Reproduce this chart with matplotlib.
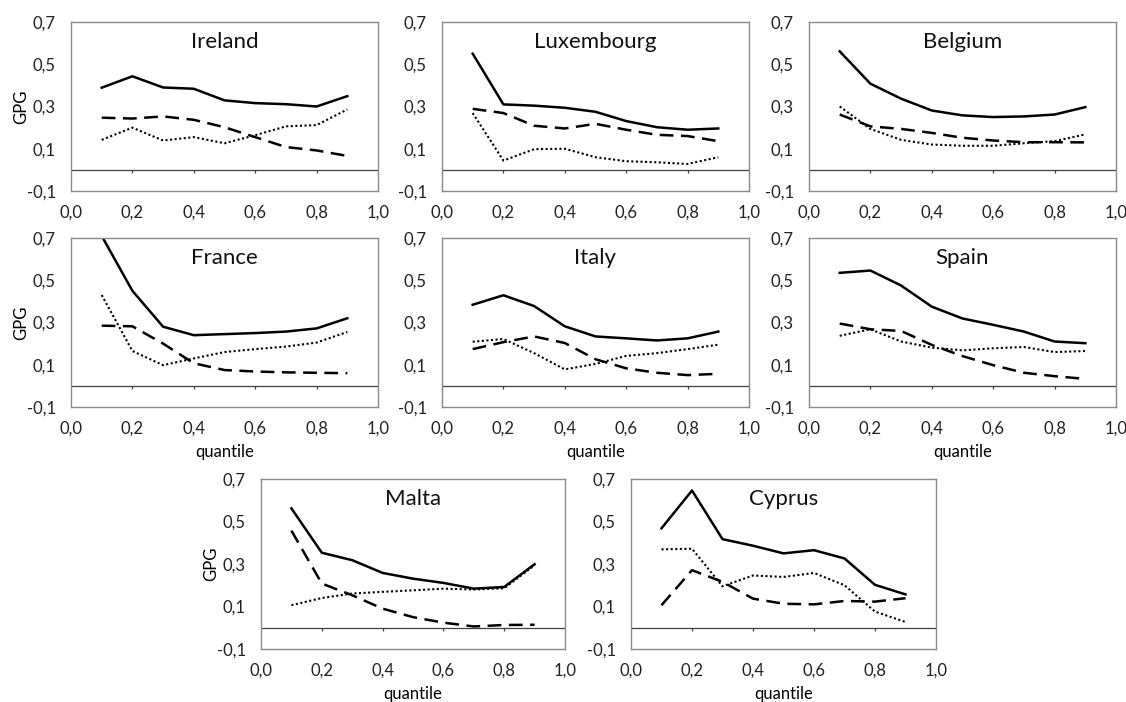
import matplotlib.pyplot as plt
from matplotlib.ticker import FuncFormatter

plt.rcParams['font.family'] = ['Lato', 'DejaVu Sans']

quantiles = [0.1, 0.2, 0.3, 0.4, 0.5, 0.6, 0.7, 0.8, 0.9]

countries = ['Ireland', 'Luxembourg', 'Belgium', 'France', 'Italy', 'Spain', 'Malta', 'Cyprus']

# solid line
solid = {
    'Ireland':    [0.389, 0.443, 0.390, 0.384, 0.329, 0.316, 0.311, 0.300, 0.349],
    'Luxembourg': [0.550, 0.310, 0.304, 0.294, 0.275, 0.231, 0.202, 0.190, 0.196],
    'Belgium':    [0.561, 0.408, 0.337, 0.281, 0.258, 0.250, 0.253, 0.262, 0.297],
    'France':     [0.710, 0.450, 0.280, 0.240, 0.245, 0.250, 0.257, 0.272, 0.320],
    'Italy':      [0.384, 0.429, 0.378, 0.282, 0.234, 0.225, 0.215, 0.225, 0.257],
    'Spain':      [0.535, 0.546, 0.475, 0.375, 0.319, 0.289, 0.257, 0.210, 0.202],
    'Malta':      [0.562, 0.353, 0.318, 0.258, 0.231, 0.211, 0.184, 0.192, 0.299],
    'Cyprus':     [0.468, 0.646, 0.417, 0.386, 0.350, 0.365, 0.326, 0.202, 0.157],
}

# dashed line
dashed = {
    'Ireland':    [0.247, 0.243, 0.253, 0.237, 0.202, 0.155, 0.108, 0.092, 0.066],
    'Luxembourg': [0.289, 0.269, 0.209, 0.196, 0.218, 0.190, 0.166, 0.160, 0.136],
    'Belgium':    [0.262, 0.206, 0.194, 0.175, 0.152, 0.139, 0.131, 0.131, 0.130],
    'France':     [0.285, 0.282, 0.200, 0.107, 0.075, 0.068, 0.064, 0.062, 0.060],
    'Italy':      [0.174, 0.207, 0.234, 0.203, 0.126, 0.083, 0.062, 0.051, 0.057],
    'Spain':      [0.295, 0.268, 0.260, 0.194, 0.141, 0.098, 0.062, 0.046, 0.033],
    'Malta':      [0.457, 0.208, 0.153, 0.090, 0.050, 0.024, 0.006, 0.013, 0.014],
    'Cyprus':     [0.106, 0.271, 0.216, 0.137, 0.113, 0.110, 0.126, 0.123, 0.139],
}

# dotted line
dotted = {
    'Ireland':    [0.142, 0.200, 0.139, 0.155, 0.126, 0.164, 0.206, 0.212, 0.286],
    'Luxembourg': [0.269, 0.044, 0.098, 0.100, 0.060, 0.041, 0.036, 0.028, 0.060],
    'Belgium':    [0.300, 0.194, 0.142, 0.120, 0.114, 0.114, 0.126, 0.136, 0.168],
    'France':     [0.430, 0.165, 0.098, 0.130, 0.160, 0.174, 0.186, 0.205, 0.255],
    'Italy':      [0.209, 0.222, 0.155, 0.078, 0.104, 0.142, 0.155, 0.174, 0.195],
    'Spain':      [0.237, 0.268, 0.210, 0.181, 0.168, 0.178, 0.184, 0.160, 0.165],
    'Malta':      [0.106, 0.140, 0.161, 0.169, 0.176, 0.184, 0.180, 0.186, 0.294],
    'Cyprus':     [0.369, 0.372, 0.195, 0.246, 0.239, 0.258, 0.200, 0.076, 0.027],
}

# axes boxes in pixels: left, top, right, bottom
W, H = 1126, 702
boxes = {
    'Ireland':    (71, 22, 378, 191),
    'Luxembourg': (442, 22, 749, 191),
    'Belgium':    (809, 22, 1116, 191),
    'France':     (71, 238, 378, 407),
    'Italy':      (442, 238, 749, 407),
    'Spain':      (809, 238, 1116, 407),
    'Malta':      (261, 479, 565, 649),
    'Cyprus':     (631, 479, 936, 649),
}
with_ylabel = ['Ireland', 'France', 'Malta']
with_xlabel = ['France', 'Italy', 'Spain', 'Malta', 'Cyprus']

comma = FuncFormatter(lambda v, p: ('%.1f' % v).replace('.', ','))

fig = plt.figure(figsize=(W / 100, H / 100), dpi=100)

for c in countries:
    l, t, r, b = boxes[c]
    ax = fig.add_axes([l / W, 1 - b / H, (r - l) / W, (b - t) / H])
    ax.plot(quantiles, solid[c], color='black', lw=1.8, ls='-')
    ax.plot(quantiles, dashed[c], color='black', lw=1.8, ls=(0, (5.5, 3)))
    ax.plot(quantiles, dotted[c], color='black', lw=1.5, ls=(0, (1, 1.2)))
    ax.axhline(0, color='#404040', lw=0.9)
    ax.vlines([0.2, 0.4, 0.6, 0.8], -0.013, 0, color='#404040', lw=0.9)
    ax.set_xlim(0, 1)
    ax.set_ylim(-0.1, 0.7)
    ax.set_xticks([0, 0.2, 0.4, 0.6, 0.8, 1.0])
    ax.set_yticks([-0.1, 0.1, 0.3, 0.5, 0.7])
    ax.xaxis.set_major_formatter(comma)
    ax.yaxis.set_major_formatter(comma)
    ax.tick_params(length=0, labelsize=12, colors='#222222')
    ax.tick_params(axis='x', pad=10)
    ax.tick_params(axis='y', pad=11)
    for s in ax.spines.values():
        s.set_color('#8a8a8a')
        s.set_linewidth(1.0)
    ax.text(0.5, 0.94, c, transform=ax.transAxes, ha='center', va='top',
            fontsize=16, color='#111111')
    if c in with_ylabel:
        ax.set_ylabel('GPG', fontsize=12, labelpad=-2)
    if c in with_xlabel:
        ax.set_xlabel('quantile', fontsize=12, labelpad=5)

fig.savefig('out.png', dpi=100, facecolor='white')
